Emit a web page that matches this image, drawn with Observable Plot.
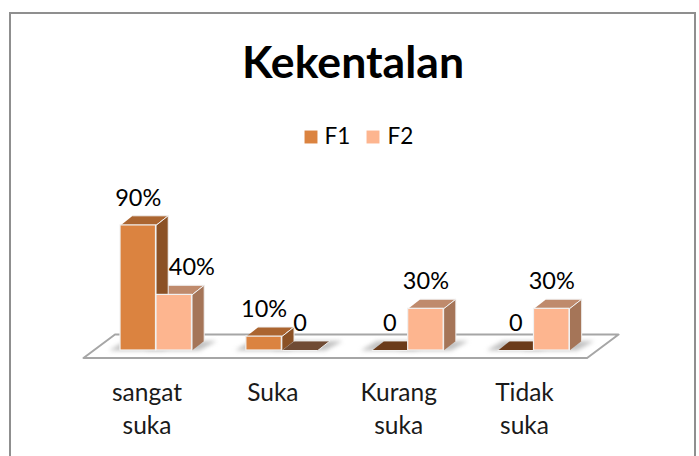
<!DOCTYPE html>
<html><head><meta charset="utf-8">
<script src="https://cdn.jsdelivr.net/npm/d3@7"></script>
<script src="https://cdn.jsdelivr.net/npm/@observablehq/plot@0.6"></script>
<style>html,body{margin:0;padding:0;background:#fff}svg{display:block}</style>
</head><body><div id="chart"></div>
<script>
const categories = ["sangat\nsuka", "Suka", "Kurang\nsuka", "Tidak\nsuka"];
const seriesNames = ["F1", "F2"];
const f1Values = [90, 10, 0, 0];
const f2Values = [40, 0, 30, 30];
const f1Labels = ["90%", "10%", "0", "0"];
const f2Labels = ["40%", "0", "30%", "30%"];
const f2LabelShift = [0.14, 0, 0, 0];

const frontColors = ["#db8340", "#fdb58f"];
const topColors = ["#ab6530", "#bf8a6c"];
const sideColors = ["#8b5125", "#a57558"];
const flatColors = ["#6b3b1a", "#704b34"];

const W = 699, H = 456;
const barW = 0.282, depthX = 0.097, depthY = 6.9;
const floorLeft = -0.576, floorRight = 3.676, floorFront = -5.4, floorBack = 11.5, floorSkew = 0.25;

const bars = [];
categories.forEach((c, i) => {
  seriesNames.forEach((s, k) => {
    const v = (k ? f2Values : f1Values)[i];
    bars.push({c, i, s, k, v, label: (k ? f2Labels : f1Labels)[i], shift: k ? f2LabelShift[i] : 0,
      x1: i + (k ? 0.004 : -barW), x2: i + (k ? barW + 0.004 : 0)});
  });
});
const poly = (b, face, pts, fill) => pts.map(([x, y]) => ({x, y, key: b.s + b.i + face, fill}));
const tops = [], sides = [], shadows = [];
for (const b of bars) {
  tops.push(...poly(b, "t", [[b.x1, b.v], [b.x2, b.v], [b.x2 + depthX, b.v + depthY], [b.x1 + depthX, b.v + depthY]],
    b.v === 0 ? flatColors[b.k] : topColors[b.k]));
  if (b.v > 0) sides.push(...poly(b, "s", [[b.x2, 0], [b.x2, b.v], [b.x2 + depthX, b.v + depthY], [b.x2 + depthX, depthY]], sideColors[b.k]));
  shadows.push(...poly(b, "h", [[b.x1 - 0.09, 0], [b.x2 + 0.06, 0], [b.x2 + depthX + 0.1, depthY], [b.x1 + depthX - 0.06, depthY]], "#9a9a9a"));
}
const floor = [[floorLeft, floorFront], [floorRight - floorSkew, floorFront], [floorRight, floorBack], [floorLeft + floorSkew, floorBack], [floorLeft, floorFront]]
  .map(([x, y]) => ({x, y}));
const raised = bars.filter(b => b.v > 0);

const plot = Plot.plot({
  width: W, height: H, margin: 0, style: {fontFamily: "Lato, Carlito, sans-serif", background: "#fff", color: "#000"},
  x: {type: "linear", domain: [0, 3], range: [155.5, 533], axis: null},
  y: {type: "linear", domain: [0, 100], range: [350, 211], axis: null},
  color: {domain: seriesNames, range: frontColors},
  marks: [
    Plot.frame({stroke: "#8f8f8f", strokeWidth: 2, insetLeft: 9.5, insetTop: 12.5, insetRight: 4.5, insetBottom: -10}),
    Plot.line(floor, {x: "x", y: "y", fill: "#fff", stroke: "#a6a6a6", strokeWidth: 2, curve: "linear"}),
    Plot.line(shadows, {x: "x", y: "y", z: "key", fill: "fill", stroke: "none", fillOpacity: 0.6, imageFilter: "blur(2px)"}),
    Plot.line(tops, {x: "x", y: "y", z: "key", fill: "fill", stroke: "#f1f1f1", strokeWidth: 1}),
    Plot.line(sides, {x: "x", y: "y", z: "key", fill: "fill", stroke: "#f1f1f1", strokeWidth: 1}),
    Plot.rect(raised, {x1: "x1", x2: "x2", y1: 0, y2: "v", fill: "s", stroke: "#f1f1f1", strokeWidth: 1.2}),
    Plot.text(bars, {
      x: b => (b.x1 + b.x2) / 2 + b.shift, y: "v", text: "label", dy: -27, fontSize: 23.5, fill: "#000"
    }),
    Plot.text(categories, {x: (d, i) => i, y: () => 0, text: d => d, dx: -9, dy: 26,
      lineAnchor: "top", lineHeight: 1.38, fontSize: 24.5, fill: "#1a1a1a"}),
    Plot.text(["Kekentalan"], {frameAnchor: "top", dy: 46, fontSize: 44.6, fontWeight: 700, fill: "#000", dx: 3, lineAnchor: "top"}),
    Plot.dot(["F1"], {frameAnchor: "top-left", dx: 310.5, dy: 136.5, symbol: "square", r: 7.3, fill: d => d}),
    Plot.dot(["F2"], {frameAnchor: "top-left", dx: 372.5, dy: 136.5, symbol: "square", r: 7.3, fill: d => d}),
    Plot.text(["F1"], {frameAnchor: "top-left", lineAnchor: "middle", dx: 324, dy: 136, text: d => d, textAnchor: "start", fontSize: 22.5, fill: "#000"}),
    Plot.text(["F2"], {frameAnchor: "top-left", lineAnchor: "middle", dx: 387, dy: 136, text: d => d, textAnchor: "start", fontSize: 22.5, fill: "#000"})
  ]
});
document.getElementById("chart").append(plot);
</script></body></html>
